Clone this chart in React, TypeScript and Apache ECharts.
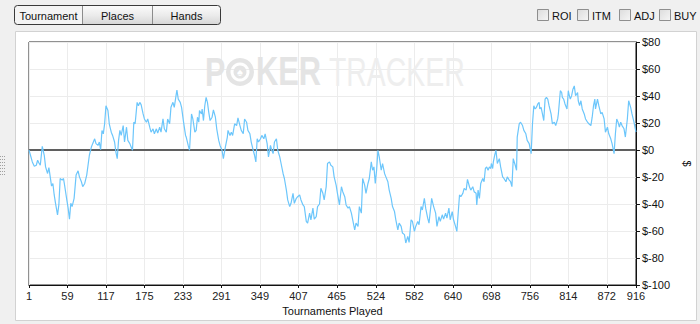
import { useEffect, useRef } from 'react';
import * as echarts from 'echarts';

// Tournament number of each sampled point
const tournaments = [
  1, 6, 9, 12, 14, 16, 18, 21, 24, 26, 29, 31, 33, 35, 37, 39, 41, 44, 46, 48, 51, 53, 55, 58, 60, 62, 64, 66, 69, 72, 75, 77, 80, 82, 85, 88, 90, 92, 95, 97, 100, 102, 105, 107, 109, 111, 113, 115, 117, 120, 122, 125, 127, 130, 132, 134, 136, 138, 140, 143, 145, 148, 150, 153, 155, 157, 159, 161, 164, 166, 168, 170, 173, 175, 178, 180, 183, 185, 188, 190, 193, 195, 198, 200, 203, 205, 208, 210, 213, 215, 218, 220, 223, 224, 226, 229, 231, 234, 237,
  238, 241, 243, 246, 248, 251, 253, 255, 257, 258, 261, 262, 264, 266, 268, 270, 272, 274, 277, 279, 282, 284, 287, 289, 292, 294, 297, 300, 301, 304, 306, 308, 311, 314, 316, 319, 321, 324, 326, 329, 331, 334, 336, 339, 341, 343, 345, 347, 350, 352, 355, 357, 360, 362, 365, 367, 369, 371, 374, 376, 379, 381, 384, 386, 389, 391, 394, 396, 399, 401, 404, 406, 409, 411, 414, 416, 419, 421, 424, 426, 429, 431, 434, 436, 439, 441, 444, 446, 449, 451, 454, 456, 459, 461, 464, 466, 469,
  472, 474, 477, 479, 482, 484, 487, 489, 492, 494, 497, 499, 502, 504, 507, 509, 512, 514, 517, 519, 521, 523, 525, 527, 529, 532, 534, 537, 539, 542, 544, 547, 549, 552, 554, 557, 559, 562, 564, 567, 569, 572, 574, 577, 579, 582, 584, 587, 589, 592, 594, 597, 599, 602, 604, 607, 608, 611, 614, 616, 619, 621, 624, 626, 629, 631, 634, 636, 639, 641, 644, 646, 648, 650, 652, 655, 657, 660, 662, 665, 667, 670, 672, 675, 676, 678,
  680, 682, 685, 687, 689, 691, 693, 695, 697, 698, 700, 701, 703, 705, 707, 710, 712, 715, 717, 720, 722, 725, 727, 729, 731, 734, 736, 737, 740, 742, 745, 747, 750, 752, 755, 758, 760, 762, 764, 766, 768, 770, 771, 773, 775, 777, 779, 781, 783, 785, 788, 790, 793, 795, 798, 799, 802, 804, 805, 807, 809, 812, 814, 815, 817, 819, 821, 823, 825, 828, 829, 831, 833, 835, 838, 840, 843, 845, 848, 850, 852, 854, 855, 858, 860, 863, 865, 868, 870, 873, 875, 878, 880, 883, 885, 887, 889, 891, 893, 895, 898, 900, 903, 905, 908, 910, 913, 916,
];

// Cumulative profit ($) at each sampled tournament
const profit = [
  0, -8.8, -12.0, -11.3, -7.6, -9.6, -11.3, 2.7, -3.9, -12.5, -17.4, -13.0, -19.9, -26.7, -24.8, -33.3, -39.5, -48.0, -40.7, -21.1, -22.3, -21.1, -27.2, -37.0, -43.1, -51.2, -39.5, -41.9, -35.8, -18.6, -15.4, -19.9, -23.5, -27.2, -24.8, -18.6, -11.3, -3.9, 2.2, 4.7, 8.3, 4.7, 3.4, 5.9, 0.2, 14.5, 12.0, 19.4, 32.8, 29.2, 19.4, 13.2, 10.8, 5.9, -1.5, -6.4, 7.1, 14.5, 10.8, 18.1, 5.9, 16.9, 7.1, 4.7, 2.2, -0.2, 20.6, 19.4, 35.3, 32.8, 35.3, 33.6, 26.7, 23.0, 20.6, 23.0, 16.9, 13.2, 15.7, 12.0, 15.7, 12.5, 16.9, 13.2, 23.0, 15.7, 13.2, 23.0, 19.4, 31.6, 35.3, 31.6, 41.4, 44.4, 37.7, 35.3, 31.6, 20.6, 10.8,
  9.6, 3.4, -0.2, 26.7, 23.0, 13.2, 14.5, 24.3, 20.6, 29.2, 26.7, 30.4, 21.8, 32.8, 39.0, 35.3, 27.9, 21.8, 24.3, 29.7, 24.3, 15.7, 7.1, 3.4, -0.2, -6.4, 2.2, 9.6, 14.5, 10.8, 13.2, 10.8, 19.4, 18.1, 23.8, 18.1, 14.5, 12.0, 23.0, 20.6, 14.5, 12.0, 5.9, -0.2, -3.9, -8.8, 8.3, 5.9, 8.3, 10.8, 8.3, 12.0, 4.7, -5.1, 3.4, -0.2, -2.7, 5.9, 8.3, -0.2, -5.1, -10.0, -17.4, -21.1, -29.7, -37.0, -41.9, -39.5, -32.1, -39.5, -35.8, -34.6, -33.3, -37.0, -40.7, -41.9, -52.9, -54.2, -46.8, -51.7, -43.1, -51.2, -49.3, -41.9, -40.0, -28.4, -32.1, -37.0, -27.2, -10.0, -8.8, -11.3, -12.5, -19.9, -26.0, -32.1, -40.7,
  -27.2, -30.9, -34.6, -40.7, -43.1, -41.9, -46.8, -51.7, -59.1, -54.2, -56.6, -41.9, -46.8, -21.1, -26.0, -32.1, -24.8, -21.1, -8.8, -15.0, -12.5, -24.8, -15.0, -0.2, -5.1, -15.0, -10.0, -17.4, -19.9, -23.5, -29.7, -35.8, -41.9, -45.6, -51.7, -59.1, -54.2, -56.6, -61.5, -62.7, -68.9, -64.0, -68.4, -51.7, -52.9, -60.3, -56.6, -52.9, -55.4, -41.9, -44.4, -35.8, -43.1, -50.5, -54.2, -40.7, -35.8, -41.9, -46.8, -56.6, -49.3, -52.9, -48.0, -51.2, -46.8, -50.5, -43.1, -51.7, -45.6, -51.7, -56.6, -60.3, -46.8, -33.3, -34.6, -32.1, -28.4, -29.7, -21.8, -27.2, -29.7, -27.2, -30.9, -32.1, -40.7, -29.7,
  -35.8, -24.8, -21.1, -23.5, -13.7, -12.5, -15.0, -12.5, -13.7, -10.0, -13.7, -8.8, -3.9, -0.2, -10.0, -6.4, -12.5, -19.9, -21.1, -23.5, -19.9, -22.3, -23.5, -27.2, -6.4, -11.3, -15.0, 9.6, 19.4, 20.6, 18.1, 14.5, 12.0, 7.1, 4.7, -2.7, 19.4, 32.8, 30.4, 31.6, 34.1, 35.3, 30.4, 31.6, 26.7, 21.8, 37.7, 39.0, 37.7, 32.8, 26.7, 19.4, 20.6, 18.1, 23.0, 26.7, 43.9, 42.6, 39.0, 37.7, 34.1, 30.4, 43.9, 41.4, 37.7, 40.2, 45.1, 47.5, 40.2, 42.6, 36.5, 32.8, 36.5, 30.4, 26.7, 23.0, 20.6, 19.4, 18.1, 24.3, 32.8, 37.7, 30.4, 37.7, 32.8, 26.7, 27.9, 23.0, 13.2, 16.9, 12.0, 8.3, 4.7, -2.7, 12.0, 23.0, 20.6, 16.9, 20.6, 18.1, 15.7, 9.6, 23.0, 36.5, 31.6, 26.7, 20.6, 13.2,
];

const xTickLabels = [1, 59, 117, 175, 233, 291, 349, 407, 465, 524, 582, 640, 698, 756, 814, 872, 916];
const yMin = -100;
const yMax = 80;
const yStep = 20;
const tabButtons = ['Tournament', 'Places', 'Hands'];
const checkLabels = ['ROI', 'ITM', 'ADJ', 'BUY'];

const FONT = '"Liberation Sans", Arial, sans-serif';

export default function App() {
  const ref = useRef<HTMLDivElement>(null);

  useEffect(() => {
    if (!ref.current) return;
    const chart = echarts.init(ref.current, undefined, { renderer: 'svg' });

    const seriesData = tournaments.map((t, i) => [t, profit[i]]);

    // Tab buttons
    const tabX = [14, 82, 152, 220];
    const tabGraphics: any[] = [];
    tabButtons.forEach((label, i) => {
      const x0 = tabX[i];
      const x1 = tabX[i + 1];
      tabGraphics.push({
        type: 'rect',
        shape: { x: x0 + 0.5, y: 5.5, width: x1 - x0, height: 19, r: i === 0 ? [3, 0, 0, 3] : i === 2 ? [0, 3, 3, 0] : 0 },
        style: {
          fill: i === 0
            ? '#f4f4f4'
            : new echarts.graphic.LinearGradient(0, 0, 0, 1, [
                { offset: 0, color: '#fbfbfb' },
                { offset: 0.5, color: '#ececec' },
                { offset: 1, color: '#d6d6d6' },
              ]),
          stroke: null,
        },
        silent: true,
      });
      tabGraphics.push({
        type: 'text',
        x: (x0 + x1) / 2 + 0.5,
        y: 15.5,
        style: { text: label, font: `11px ${FONT}`, fill: '#111', align: 'center', verticalAlign: 'middle' },
        silent: true,
      });
    });
    tabGraphics.push({
      type: 'line',
      shape: { x1: 82.5, y1: 6, x2: 82.5, y2: 24 },
      style: { stroke: '#8c8c8c', lineWidth: 1 },
      silent: true,
    });
    tabGraphics.push({
      type: 'line',
      shape: { x1: 152.5, y1: 6, x2: 152.5, y2: 24 },
      style: { stroke: '#8c8c8c', lineWidth: 1 },
      silent: true,
    });
    tabGraphics.push({
      type: 'rect',
      shape: { x: 14.5, y: 5.5, width: 206, height: 19, r: 3 },
      style: { fill: 'none', stroke: '#3a3a3a', lineWidth: 1 },
      silent: true,
    });

    // Checkboxes
    const boxX = [537, 577, 619, 659];
    const checkGraphics: any[] = [];
    checkLabels.forEach((label, i) => {
      checkGraphics.push({
        type: 'rect',
        shape: { x: boxX[i] + 0.5, y: 9.5, width: 11, height: 11 },
        style: {
          fill: new echarts.graphic.LinearGradient(0, 0, 1, 1, [
            { offset: 0, color: '#dcdcdc' },
            { offset: 1, color: '#f6f6f6' },
          ]),
          stroke: '#8e8e8e',
          lineWidth: 1,
        },
        silent: true,
      });
      checkGraphics.push({
        type: 'text',
        x: boxX[i] + 15,
        y: 15.5,
        style: { text: label, font: `11px ${FONT}`, fill: '#111', align: 'left', verticalAlign: 'middle' },
        silent: true,
      });
    });

    // Watermark
    const wm = '#e4e4e4';
    const watermark: any[] = [
      {
        type: 'text', x: 205, y: 72, z: 1, scaleX: 0.76,
        style: { text: 'P', font: `bold 40px ${FONT}`, fill: wm, verticalAlign: 'middle' },
        silent: true,
      },
      {
        type: 'ring', z: 1,
        shape: { cx: 240, cy: 72, r: 14, r0: 9.5 },
        style: { fill: wm },
        silent: true,
      },
      {
        type: 'circle', z: 1,
        shape: { cx: 240, cy: 72, r: 6.5 },
        style: { fill: wm },
        silent: true,
      },
      {
        type: 'text', x: 240, y: 72, z: 1,
        style: { text: '\u2660', font: `11px ${FONT}`, fill: '#ffffff', align: 'center', verticalAlign: 'middle' },
        silent: true,
      },
      {
        type: 'text', x: 256, y: 72, z: 1, scaleX: 0.77,
        style: { text: 'KER', font: `bold 40px ${FONT}`, fill: wm, verticalAlign: 'middle' },
        silent: true,
      },
      {
        type: 'text', x: 329, y: 72, z: 1, scaleX: 0.71,
        style: { text: 'TRACKER', font: `40px ${FONT}`, fill: '#eeeeee', verticalAlign: 'middle' },
        silent: true,
      },
    ];

    // Left dotted handle
    const handle: any[] = [];
    [156, 159, 162, 165, 168, 171, 174].forEach((yy) => {
      handle.push({
        type: 'line',
        shape: { x1: 0, y1: yy + 0.5, x2: 5, y2: yy + 0.5 },
        style: { stroke: '#a0a0a0', lineWidth: 1, lineDash: [1, 1] },
        silent: true,
      });
    });

    chart.setOption({
      animation: false,
      backgroundColor: '#f0f0f0',
      textStyle: { fontFamily: FONT },
      graphic: [
        {
          type: 'rect',
          z: -10,
          shape: { x: 15.5, y: 31.5, width: 681, height: 289 },
          style: { fill: '#ffffff', stroke: '#d2d2d2', lineWidth: 1 },
          silent: true,
        },
        ...handle,
        ...tabGraphics,
        ...checkGraphics,
        ...watermark,
      ],
      grid: {
        left: 29,
        right: 63,
        top: 42,
        bottom: 39,
        show: true,
        backgroundColor: 'transparent',
        borderColor: '#222',
        borderWidth: 1,
      },
      xAxis: {
        type: 'value',
        min: 1,
        max: 916,
        name: 'Tournaments Played',
        nameLocation: 'middle',
        nameGap: 20,
        nameTextStyle: { fontSize: 11, color: '#111', fontFamily: FONT },
        axisLine: { show: true, onZero: false, lineStyle: { color: '#111', width: 1 } },
        axisTick: { show: true, length: 3, lineStyle: { color: '#111' }, customValues: xTickLabels },
        axisLabel: { fontSize: 11, color: '#222', margin: 5, customValues: xTickLabels, fontFamily: FONT },
        splitLine: { show: true, lineStyle: { color: '#ececec', width: 1 } },
      },
      yAxis: {
        type: 'value',
        position: 'right',
        min: yMin,
        max: yMax,
        interval: yStep,
        name: '$',
        nameLocation: 'middle',
        nameRotate: -90,
        nameGap: 34,
        nameTextStyle: { fontSize: 11, color: '#111', fontFamily: FONT },
        axisLine: { show: true, onZero: false, lineStyle: { color: '#111', width: 1 } },
        axisTick: { show: true, length: 4, lineStyle: { color: '#111' } },
        axisLabel: { fontSize: 11, color: '#111', margin: 6, formatter: (v: number) => '$' + v, fontFamily: FONT },
        splitLine: { show: true, lineStyle: { color: '#ececec', width: 1 } },
      },
      series: [
        {
          type: 'line',
          data: seriesData,
          showSymbol: false,
          symbol: 'none',
          z: 3,
          lineStyle: { color: '#6cc6fb', width: 1.2 },
          markLine: {
            silent: true,
            symbol: 'none',
            label: { show: false },
            lineStyle: { color: '#5f5f5f', width: 2, type: 'solid' },
            data: [{ yAxis: 0 }],
            z: 2,
          },
        },
      ],
    });

    return () => chart.dispose();
  }, []);

  return (
    <div
      ref={ref}
      style={{ position: 'fixed', left: 0, top: 0, width: 700, height: 324 }}
    />
  );
}
